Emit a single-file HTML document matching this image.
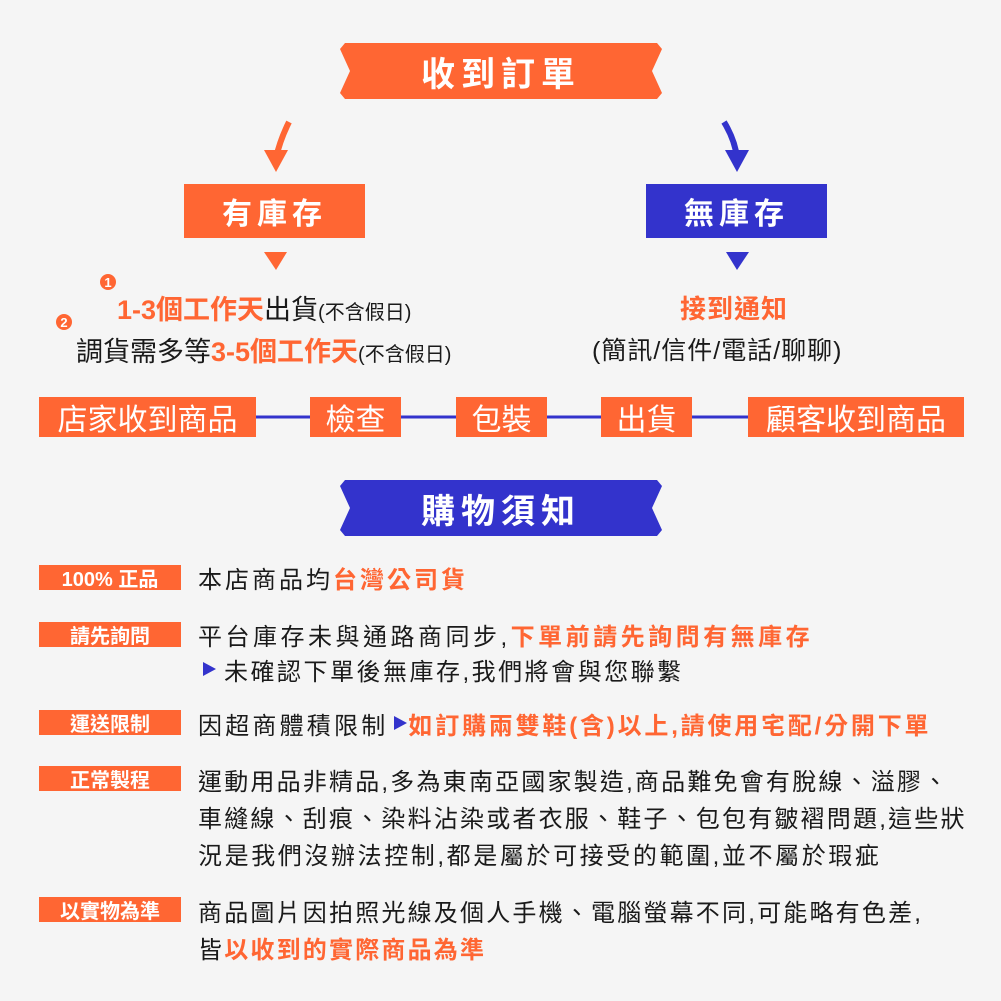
<!DOCTYPE html>
<html><head><meta charset="utf-8"><style>
*{margin:0;padding:0;box-sizing:border-box}
body{width:1001px;height:1001px;background:#f5f5f5;position:relative;overflow:hidden;font-family:"Liberation Sans","Noto Sans CJK TC",sans-serif;color:#1a1a1a}
.a{position:absolute;white-space:nowrap}
.o{color:#ff6633}
.b{font-weight:bold}
.box{position:absolute;display:flex;align-items:center;justify-content:center;color:#fff;white-space:nowrap}
.fl{background:#ff6633;top:397px;height:40px;font-size:30px}
.lb{background:#ff6633;left:39px;width:142px;height:25px;font-size:20px;font-weight:bold}
.t{font-size:24px;letter-spacing:2px;left:198px}
</style></head><body>
<svg class="a" style="left:0;top:0" width="1001" height="1001">
<polygon points="345,43 657,43 662,49 652,71 662,93 657,99 345,99 340,93 350,71 340,49" fill="#ff6633"/>
<polygon points="345,480 657,480 662,486 652,508 662,530 657,536 345,536 340,530 350,508 340,486" fill="#3333cc"/>
<path d="M289,122 Q280,140 276,158" stroke="#ff6633" stroke-width="6" fill="none"/>
<polygon points="264,150 288,150 276,172" fill="#ff6633"/>
<path d="M724,122 Q735,140 737,158" stroke="#3333cc" stroke-width="6" fill="none"/>
<polygon points="725,150 749,150 737,172" fill="#3333cc"/>
<polygon points="264,252 287,252 276,270" fill="#ff6633"/>
<polygon points="726,252 749,252 737,270" fill="#3333cc"/>
<line x1="256" y1="417" x2="748" y2="417" stroke="#3333cc" stroke-width="3"/>
<circle cx="108" cy="282" r="8" fill="#ff6633"/>
<circle cx="64" cy="322" r="8" fill="#ff6633"/>
<text x="108" y="287" font-size="13" fill="#fff" text-anchor="middle" font-weight="bold" font-family="Liberation Sans">1</text>
<text x="64" y="327" font-size="13" fill="#fff" text-anchor="middle" font-weight="bold" font-family="Liberation Sans">2</text>
<polygon points="203,662 203,676 216,669" fill="#3333cc"/>
<polygon points="394,716 394,730 407,723" fill="#3333cc"/>
</svg>
<div class="box b" style="left:340px;top:43px;width:322px;height:56px;font-size:34px;letter-spacing:6px">收到訂單</div>
<div class="box b" style="left:340px;top:480px;width:322px;height:56px;font-size:34px;letter-spacing:6px">購物須知</div>
<div class="box b" style="left:184px;top:184px;width:181px;height:54px;background:#ff6633;font-size:30px;letter-spacing:5px">有庫存</div>
<div class="box b" style="left:646px;top:184px;width:181px;height:54px;background:#3333cc;font-size:30px;letter-spacing:5px">無庫存</div>
<div class="a" style="left:117px;top:288px;font-size:27px"><span class="o b">1-3個工作天</span>出貨<span style="font-size:20px">(不含假日)</span></div>
<div class="a" style="left:76px;top:330px;font-size:27px">調貨需多等<span class="o b">3-5個工作天</span><span style="font-size:20px">(不含假日)</span></div>
<div class="a o b" style="left:680px;top:289px;font-size:26px;letter-spacing:1px">接到通知</div>
<div class="a" style="left:592px;top:331px;font-size:25px;letter-spacing:1px">(簡訊/信件/電話/聊聊)</div>
<div class="box fl" style="left:39px;width:217px">店家收到商品</div>
<div class="box fl" style="left:310px;width:91px">檢查</div>
<div class="box fl" style="left:456px;width:91px">包裝</div>
<div class="box fl" style="left:601px;width:91px">出貨</div>
<div class="box fl" style="left:748px;width:216px">顧客收到商品</div>
<div class="box lb" style="top:565px">100% 正品</div>
<div class="box lb" style="top:622px">請先詢問</div>
<div class="box lb" style="top:710px">運送限制</div>
<div class="box lb" style="top:766px">正常製程</div>
<div class="box lb" style="top:897px">以實物為準</div>
<div class="a t" style="top:560px;letter-spacing:3px">本店商品均<span class="o b">台灣公司貨</span></div>
<div class="a t" style="top:617px;letter-spacing:3.5px">平台庫存未與通路商同步,<span class="o b">下單前請先詢問有無庫存</span></div>
<div class="a t" style="top:652px;left:224px;letter-spacing:2.5px">未確認下單後無庫存,我們將會與您聯繫</div>
<div class="a t" style="top:706px;letter-spacing:3.2px">因超商體積限制<span style="display:inline-block;width:20px"></span><span class="o b" style="letter-spacing:2.8px">如訂購兩雙鞋(含)以上,請使用宅配/分開下單</span></div>
<div class="a t" style="top:762px;letter-spacing:2.2px">運動用品非精品,多為東南亞國家製造,商品難免會有脫線、溢膠、</div>
<div class="a t" style="top:799px;letter-spacing:2.2px">車縫線、刮痕、染料沾染或者衣服、鞋子、包包有皺褶問題,這些狀</div>
<div class="a t" style="top:836px;letter-spacing:2.6px">況是我們沒辦法控制,都是屬於可接受的範圍,並不屬於瑕疵</div>
<div class="a t" style="top:893px;letter-spacing:2.2px">商品圖片因拍照光線及個人手機、電腦螢幕不同,可能略有色差,</div>
<div class="a t" style="top:930px;letter-spacing:2.2px">皆<span class="o b">以收到的實際商品為準</span></div>
</body></html>
